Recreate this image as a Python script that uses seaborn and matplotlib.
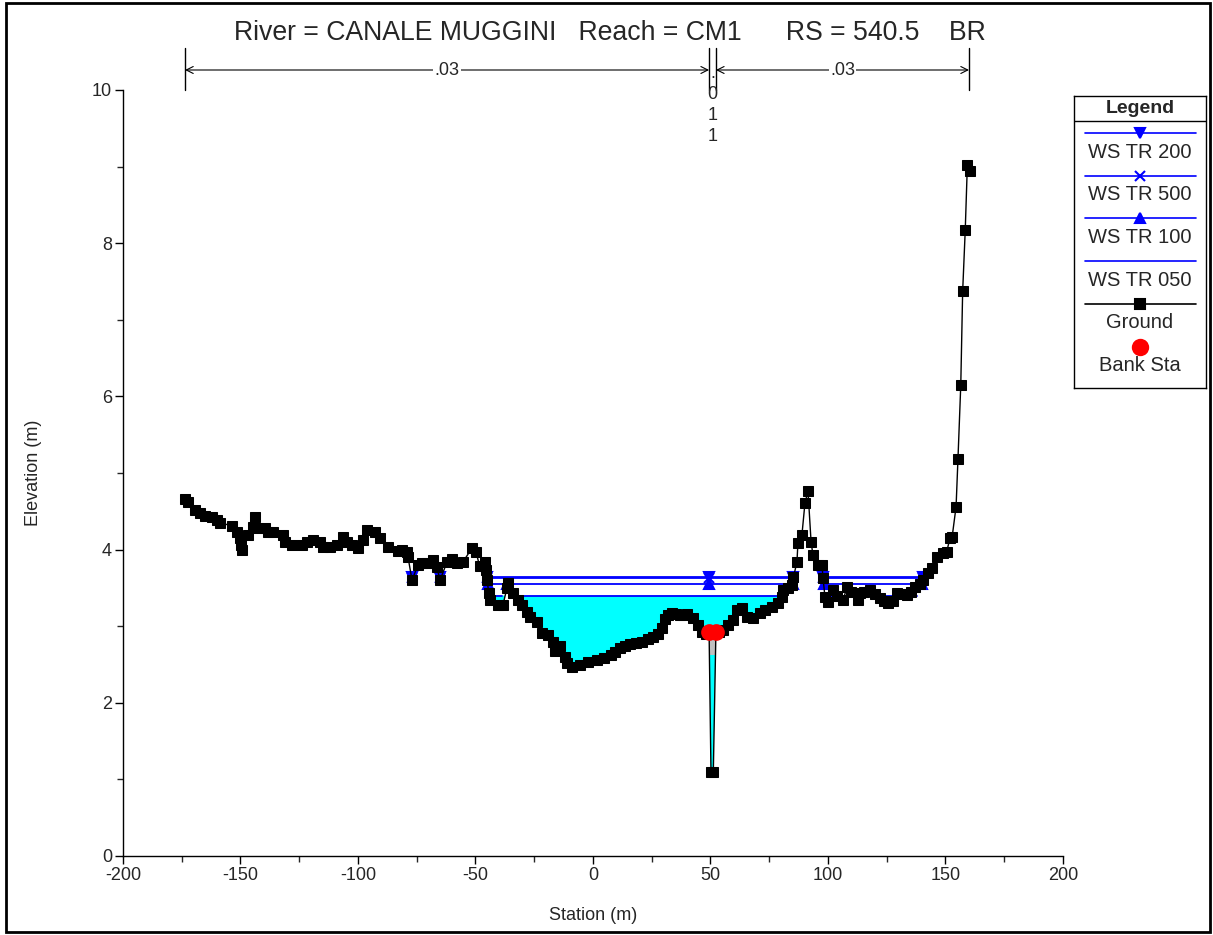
import numpy as np
import matplotlib
matplotlib.use("Agg")
import matplotlib.pyplot as plt
import matplotlib.transforms as mtransforms
from matplotlib.patches import Rectangle
from matplotlib.ticker import MultipleLocator
import seaborn as sns

plot_title = "River = CANALE MUGGINI   Reach = CM1      RS = 540.5    BR"

ground_sta = [
    -173.6, -172.3, -169.4, -167.2, -165.1, -162.1, -160.0, -158.7, -153.6, -151.5,
    -150.2, -149.8, -149.4, -146.8, -144.7, -143.8, -142.6, -139.6, -138.3, -136.2,
    -131.9, -131.1, -128.1, -123.8, -121.7, -119.1, -116.2, -114.9, -111.9, -108.9,
    -106.4, -104.7, -102.6, -100.0, -97.9, -96.2, -92.8, -90.6, -87.2, -83.0,
    -81.3, -79.1, -78.7, -77.0, -74.5, -72.8, -70.6, -68.1, -66.4, -65.1,
    -62.1, -60.0, -57.9, -55.3, -51.5, -49.8, -48.2, -46.0, -45.6, -45.1,
    -44.3, -43.8, -40.4, -38.3, -36.6, -36.2, -34.0, -31.9, -30.2, -28.1,
    -26.8, -23.8, -21.7, -19.1, -17.0, -16.0, -14.0, -12.0, -11.0, -8.9,
    -5.5, -2.1, 1.7, 4.5, 7.5, 9.5, 11.5, 13.5, 15.7, 18.5,
    20.9, 23.5, 25.5, 27.5, 29.4, 30.6, 32.0, 33.6, 35.5, 37.0,
    38.5, 40.0, 42.6, 44.7, 46.4, 48.0, 49.4, 50.2, 51.2, 52.3,
    53.5, 55.3, 57.4, 59.6, 61.3, 63.4, 65.5, 68.1, 71.1, 73.2,
    76.2, 78.7, 80.4, 80.9, 83.0, 84.7, 85.3, 86.8, 87.2, 88.9,
    90.2, 91.5, 92.8, 93.6, 95.7, 97.4, 97.9, 98.7, 100.0, 102.1,
    104.0, 106.4, 108.1, 110.0, 112.8, 113.6, 115.5, 117.9, 120.0, 122.1,
    123.8, 125.5, 127.5, 129.4, 131.5, 133.6, 135.5, 137.0, 139.0, 140.4,
    142.6, 144.3, 146.4, 148.9, 150.5, 151.9, 152.8, 154.5, 155.3, 156.5,
    157.3, 158.4, 159.3, 160.6,
]
ground_elev = [
    4.66, 4.62, 4.52, 4.48, 4.44, 4.43, 4.39, 4.35, 4.31, 4.23,
    4.15, 4.06, 3.99, 4.19, 4.30, 4.43, 4.28, 4.28, 4.23, 4.23,
    4.19, 4.10, 4.06, 4.06, 4.10, 4.12, 4.10, 4.04, 4.04, 4.06,
    4.17, 4.10, 4.06, 4.02, 4.13, 4.26, 4.23, 4.15, 4.04, 3.98,
    3.99, 3.97, 3.90, 3.60, 3.80, 3.82, 3.82, 3.86, 3.77, 3.60,
    3.84, 3.88, 3.82, 3.84, 4.02, 3.97, 3.78, 3.84, 3.74, 3.60,
    3.43, 3.34, 3.28, 3.28, 3.50, 3.56, 3.43, 3.34, 3.28, 3.19,
    3.12, 3.06, 2.91, 2.89, 2.80, 2.68, 2.74, 2.60, 2.52, 2.47,
    2.49, 2.53, 2.56, 2.59, 2.63, 2.66, 2.71, 2.74, 2.77, 2.78,
    2.80, 2.83, 2.86, 2.90, 2.97, 3.10, 3.15, 3.17, 3.16, 3.14,
    3.15, 3.16, 3.11, 3.02, 2.93, 2.90, 2.92, 1.10, 1.10, 2.92,
    2.92, 2.95, 3.02, 3.08, 3.21, 3.24, 3.12, 3.11, 3.17, 3.21,
    3.25, 3.30, 3.38, 3.47, 3.50, 3.54, 3.64, 3.84, 4.09, 4.19,
    4.61, 4.76, 4.10, 3.93, 3.80, 3.80, 3.63, 3.38, 3.32, 3.47,
    3.40, 3.34, 3.51, 3.45, 3.34, 3.43, 3.45, 3.47, 3.42, 3.37,
    3.33, 3.30, 3.33, 3.43, 3.42, 3.41, 3.45, 3.51, 3.55, 3.60,
    3.69, 3.76, 3.90, 3.95, 3.97, 4.15, 4.16, 4.56, 5.18, 6.15,
    7.37, 8.17, 9.02, 8.94,
]

bank_sta = [49.4, 52.3]
bank_elev = [2.92, 2.92]

ws_names = ["WS TR 200", "WS TR 500", "WS TR 100", "WS TR 050"]
ws_elev = [3.645, 3.63, 3.545, 3.40]
ws_marker = ["v", "x", "^", None]
ws_segments = [
    [(-77.8, -76.2), (-65.9, -64.3), (-45.4, 85.3), (97.6, 140.6)],
    [(-77.8, -76.2), (-65.9, -64.3), (-45.4, 85.3), (97.6, 140.6)],
    [(-44.9, -36.4), (-36.0, 84.9), (98.1, 140.1)],
    [(-44.3, -38.8), (-31.8, 80.6), (98.6, 138.0)],
]
ws_marker_sta = [
    [-77.0, -65.1, -45.1, 49.5, 85.1, 97.9, 140.4],
    [-77.0, -65.1, -45.1, 49.5, 85.1, 97.9, 140.4],
    [-44.8, -36.4, 49.5, 84.9, 98.1, 140.1],
    [],
]

deck_sta = [49.5, 52.2]
deck_low = [2.62, 2.62]
deck_high = [2.82, 2.82]

n_sta = [-173.6, 49.4, 52.3, 160.0]
n_val = [".03", ".011", ".03"]

# ---- figure ----
sns.set_style("ticks")
plt.rcParams["font.family"] = ["Liberation Sans", "DejaVu Sans"]
plt.rcParams["axes.unicode_minus"] = False

W, H = 1213, 935
fig = plt.figure(figsize=(W / 100, H / 100), dpi=100)
ax = fig.add_axes([123 / W, 1 - 856 / H, 940 / W, 766 / H])

sta = np.array(ground_sta)
elev = np.array(ground_elev)

# water (lowest profile) fill
ax.fill_between(sta, elev, ws_elev[-1], where=elev < ws_elev[-1],
                interpolate=True, color="#00ffff", lw=0, zorder=1)
# bridge deck piece inside the opening
ax.fill_between(deck_sta, deck_low, deck_high, color="#c0c0c0", lw=0, zorder=2)

# water surfaces
for z, segs, m, ms in zip(ws_elev, ws_segments, ws_marker, ws_marker_sta):
    for a, b in segs:
        ax.plot([a, b], [z, z], color="blue", lw=1.3, zorder=3)
    if m is not None and ms:
        ax.plot(ms, [z] * len(ms), ls="none", marker=m, color="blue",
                ms=7, mew=1.5, zorder=4)

# ground
sns.lineplot(x=sta, y=elev, sort=False, estimator=None, color="black",
             lw=1, marker="s", markersize=7, markeredgecolor="black",
             ax=ax, zorder=5)
ax.plot(bank_sta, bank_elev, ls="none", marker="o", color="red", ms=11, zorder=6)

ax.set_xlim(-200, 200)
ax.set_ylim(0, 10)
ax.xaxis.set_major_locator(MultipleLocator(50))
ax.xaxis.set_minor_locator(MultipleLocator(25))
ax.yaxis.set_major_locator(MultipleLocator(2))
ax.yaxis.set_minor_locator(MultipleLocator(1))
ax.tick_params(which="major", direction="out", length=6, width=1, pad=2,
               labelsize=13, color="black")
ax.tick_params(which="minor", direction="out", length=4, width=1)
for s in ["top", "right"]:
    ax.spines[s].set_visible(False)
for s in ["left", "bottom"]:
    ax.spines[s].set_linewidth(1)
    ax.spines[s].set_color("black")

ax.set_xlabel("Station (m)", fontsize=13)
ax.set_ylabel("Elevation (m)", fontsize=13)
ax.xaxis.set_label_coords(0.5, (856 - 916) / 766)
ax.xaxis.label.set_va("center")
ax.yaxis.set_label_coords((33 - 123) / 940, 0.5)
ax.yaxis.label.set_va("center")

# Manning's n bar above the plot
trans = mtransforms.blended_transform_factory(ax.transData, ax.transAxes)
y_arrow = (856 - 70) / 766
y_top = (856 - 48) / 766
for s in n_sta:
    ax.plot([s, s], [1.0, y_top], color="black", lw=1, transform=trans,
            clip_on=False)
for a, b, v in zip(n_sta[:-1], n_sta[1:], n_val):
    mid = (a + b) / 2
    if b - a > 10:
        ax.annotate("", xy=(a, y_arrow), xytext=(b, y_arrow),
                    xycoords=trans, textcoords=trans,
                    arrowprops=dict(arrowstyle="<->,head_length=0.5,head_width=0.25",
                                    lw=0.8, color="black", shrinkA=0, shrinkB=0))
        ax.text(mid, y_arrow, v, transform=trans, ha="center", va="center",
                fontsize=13, bbox=dict(fc="white", ec="none", pad=1))
    else:
        ax.text(mid, y_arrow + 0.006, "\n".join(v), transform=trans,
                ha="center", va="top", fontsize=13, linespacing=1.3)

fig.text(610 / W, 1 - 33 / H, plot_title, ha="center", va="center", fontsize=19.2)

# legend box
top, bot = 96, 388
lax = fig.add_axes([1074 / W, 1 - bot / H, 132 / W, (bot - top) / H])
lax.set_xlim(0, 1)
lax.set_ylim(bot, top)
lax.set_xticks([])
lax.set_yticks([])
lax.patch.set_facecolor("white")
for s in lax.spines.values():
    s.set_linewidth(1)
    s.set_color("black")
lax.text(0.5, (top + 121) / 2, "Legend", ha="center", va="center",
         fontsize=14, fontweight="bold")
lax.plot([0, 1], [121, 121], color="black", lw=1)
entries = [(n, "blue", m, "-") for n, m in zip(ws_names, ws_marker)]
entries += [("Ground", "black", "s", "-"), ("Bank Sta", "red", "o", "none")]
for i, (name, c, m, ls) in enumerate(entries):
    yl = 133 + i * 42.7
    lax.plot([0.083, 0.924], [yl, yl], color=c, lw=1.2, ls=ls)
    if m is not None:
        lax.plot([0.5], [yl], marker=m, color=c, ls="none",
                 ms=11 if m == "o" else 7, mew=1.5)
    lax.text(0.5, yl + 19, name, ha="center", va="center", fontsize=14.5)

fig.add_artist(Rectangle((6 / W, 3 / H), (1210 - 6) / W, (932 - 3) / H,
                         transform=fig.transFigure, fill=False, lw=2,
                         ec="black"))

fig.savefig("out.png", dpi=100, facecolor="white")
